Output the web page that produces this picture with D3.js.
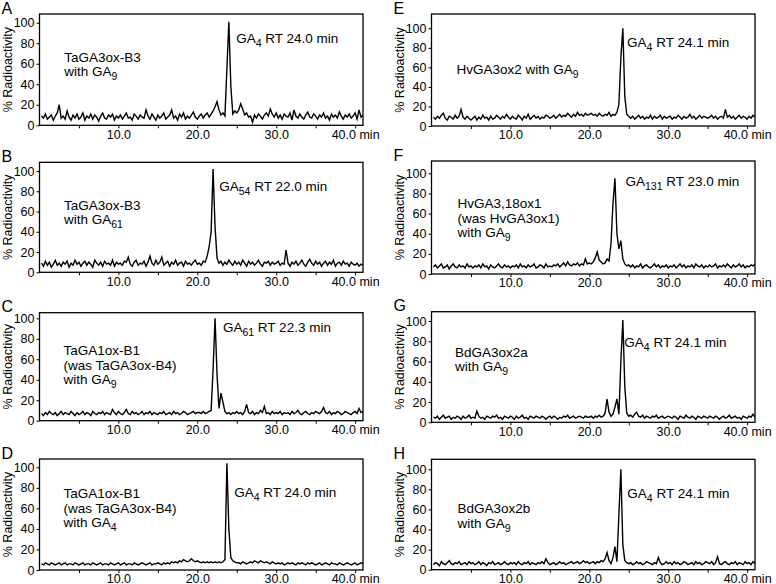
<!DOCTYPE html>
<meta charset="utf-8">
<body style="margin:0;background:#fff">
<script src="https://cdn.jsdelivr.net/npm/d3@7"></script>
<script>

// radio-HPLC traces, % radioactivity, one reading every 0.25 min from 0.25 min
const sampleStep = 0.25;

const traceA = [
  9,7,11,6,8,10,5,9,12,20,7,9,6,14,8,5,10,7,11,6,
  8,12,5,9,7,11,6,10,8,4,9,12,7,6,10,8,11,5,9,7,
  10,6,9,12,7,8,5,11,9,6,10,8,7,15,9,6,11,8,5,10,
  7,9,12,6,8,10,15,7,9,5,11,8,12,6,9,7,10,13,8,6,
  9,11,7,10,12,8,11,14,18,23,15,10,12,9,55,101,38,11,14,12,
  15,21,16,10,12,8,9,3,10,7,11,9,6,10,12,9,16,11,8,12,
  7,10,6,11,9,8,12,5,15,9,7,11,8,6,10,13,8,7,11,9,
  6,10,8,12,7,9,5,11,8,10,7,13,9,6,10,8,11,7,9,12,
  6,15,8,10
];
const traceB = [
  9,6,11,7,10,5,8,12,7,9,6,10,8,11,5,9,7,12,8,10,
  6,9,11,7,10,8,5,12,9,7,10,6,11,8,9,7,12,6,10,8,
  9,7,11,10,15,8,6,10,12,7,9,8,11,6,10,16,9,7,12,8,
  10,15,7,9,11,6,10,8,12,7,9,10,6,11,8,9,7,10,12,8,
  9,7,11,10,16,25,40,102,45,14,9,11,7,10,8,12,9,7,11,8,
  10,7,12,9,6,11,8,10,7,9,12,8,6,10,9,11,7,10,8,9,
  11,7,9,8,22,9,6,10,8,11,7,9,12,8,6,10,13,9,7,11,
  8,10,6,9,11,7,10,8,12,6,9,10,7,11,8,9,6,10,8,7,
  9,6,8,7
];
const traceC = [
  7,5,8,6,9,7,6,8,5,7,9,6,8,7,6,9,7,5,8,6,
  7,9,6,8,7,5,9,7,6,8,7,9,6,8,7,6,11,8,6,9,
  7,6,8,11,7,6,9,7,8,6,7,9,6,8,7,9,6,8,7,6,
  8,7,9,6,7,8,6,9,7,8,6,7,9,8,6,7,8,9,7,8,
  8,7,9,7,8,9,10,50,100,45,12,27,18,9,7,8,6,8,7,9,
  7,8,6,9,16,8,7,9,6,8,7,10,8,14,7,8,6,9,7,8,
  7,9,6,8,7,8,6,9,7,8,10,7,6,8,9,7,6,8,7,9,
  8,7,9,13,8,7,9,6,8,7,9,8,6,7,9,8,7,6,8,9,
  7,12,8,9
];
const traceD = [
  6,5,7,6,5,7,6,5,6,7,5,6,7,5,6,6,5,7,6,5,
  6,7,5,6,6,5,7,6,5,6,7,5,6,6,5,7,6,5,6,7,
  5,6,7,5,6,6,5,7,6,5,6,7,6,5,6,7,5,6,6,7,
  6,5,7,6,7,6,8,7,8,7,9,8,10,9,8,9,11,9,8,9,
  8,7,8,7,8,7,8,7,8,7,8,7,8,10,104,40,12,9,8,7,
  7,6,8,7,6,7,8,7,9,8,7,9,8,7,8,7,6,8,7,6,
  7,6,7,5,6,7,6,7,6,5,7,6,7,6,5,7,6,7,6,5,
  6,7,5,6,7,6,5,7,6,6,5,7,6,5,6,7,6,5,6,7,
  5,6,7,6
];
const traceE = [
  9,7,10,8,11,13,8,6,10,9,7,11,8,10,17,9,7,10,8,6,
  8,10,6,9,7,11,8,9,6,10,7,8,11,9,7,10,8,12,9,7,
  10,8,7,11,9,6,10,8,12,7,9,11,8,10,7,9,8,11,10,8,
  9,11,8,10,12,9,11,10,13,11,9,12,10,14,11,12,10,13,11,12,
  13,11,12,10,13,11,10,12,11,14,10,12,11,14,22,70,100,30,12,10,
  8,10,7,9,11,8,10,7,9,8,11,7,10,8,9,11,7,10,8,9,
  10,7,9,8,11,9,7,10,8,9,12,8,10,7,9,11,8,10,9,8,
  9,11,8,10,7,9,10,8,17,9,11,8,10,7,9,11,8,10,9,7,
  10,8,11,9
];
const traceF = [
  7,9,6,8,10,6,7,9,5,8,10,7,6,9,7,8,6,10,7,8,
  6,8,7,9,6,10,7,8,5,9,7,6,8,10,7,6,9,7,8,6,
  8,7,9,6,10,7,8,6,9,7,8,10,6,7,9,8,6,10,7,8,
  7,9,8,10,7,9,11,8,12,9,8,10,9,11,8,10,9,15,10,11,
  10,12,16,22,14,12,10,11,15,13,30,70,95,40,25,33,15,10,8,9,
  7,9,6,8,7,10,6,8,9,7,6,8,10,7,9,6,8,7,9,6,
  8,7,9,6,8,10,7,9,6,8,7,9,6,10,8,7,9,6,8,7,
  9,7,8,10,6,8,7,9,7,10,8,6,9,7,8,10,7,9,6,8,
  7,9,8,10
];
const traceG = [
  5,4,6,3,5,7,4,5,6,3,5,4,6,5,3,6,4,5,7,4,
  5,4,11,6,4,5,3,6,5,4,6,5,7,4,5,3,6,5,4,6,
  5,3,6,4,5,7,4,5,3,6,5,4,6,5,4,6,5,3,5,6,
  4,6,5,3,5,4,6,5,7,4,5,6,4,5,6,5,4,6,5,5,
  6,4,6,5,7,5,6,9,23,10,6,8,15,23,8,60,101,35,9,6,
  7,5,8,10,6,5,7,4,6,5,4,6,5,7,4,5,6,4,5,6,
  5,4,6,5,3,6,5,4,7,5,4,6,5,3,6,5,4,6,5,4,
  6,5,4,6,5,3,5,6,4,5,7,4,5,6,4,5,3,6,5,4,
  6,5,8,5
];
const traceH = [
  5,7,6,4,8,6,5,7,9,6,5,7,6,8,5,6,7,5,8,6,
  7,5,6,8,5,7,6,4,7,6,8,5,6,7,5,6,8,6,5,7,
  6,7,5,8,6,5,7,6,8,5,7,6,5,7,6,8,6,11,7,5,
  6,7,5,6,8,6,7,5,6,7,8,6,7,8,6,7,9,7,8,6,
  7,8,6,8,7,9,8,11,17,9,6,12,23,8,55,100,25,9,7,6,
  7,5,6,8,6,7,5,6,8,7,6,5,7,6,12,7,5,6,8,6,
  7,5,8,6,7,5,6,8,7,5,6,7,5,8,6,7,5,6,8,7,
  6,8,5,7,13,6,5,7,8,6,5,7,6,8,5,7,6,5,8,6,
  7,5,8,6
];

const traces = [traceA, traceB, traceC, traceD, traceE, traceF, traceG, traceH];
const letters = ["A", "B", "C", "D", "E", "F", "G", "H"];

// text segments: odd entries are subscripts
const enzymeLines = [
  [["TaGA3ox-B3"], ["with GA", "9"]],
  [["TaGA3ox-B3"], ["with GA", "61"]],
  [["TaGA1ox-B1"], ["(was TaGA3ox-B4)"], ["with GA", "9"]],
  [["TaGA1ox-B1"], ["(was TaGA3ox-B4)"], ["with GA", "4"]],
  [["HvGA3ox2 with GA", "9"]],
  [["HvGA3,18ox1"], ["(was HvGA3ox1)"], ["with GA", "9"]],
  [["BdGA3ox2a"], ["with GA", "9"]],
  [["BdGA3ox2b"], ["with GA", "9"]]
];
const peakLabels = [
  ["GA", "4", " RT 24.0 min"],
  ["GA", "54", " RT 22.0 min"],
  ["GA", "61", " RT 22.3 min"],
  ["GA", "4", " RT 24.0 min"],
  ["GA", "4", " RT 24.1 min"],
  ["GA", "131", " RT 23.0 min"],
  ["GA", "4", " RT 24.1 min"],
  ["GA", "4", " RT 24.1 min"]
];

const yTicks = [0, 20, 40, 60, 80, 100];
const xTicks = [5, 10, 15, 20, 25, 30, 35, 40];
const xLabelled = [10, 20, 30, 40];
const xMax = 41;

const colLeft = [39.5, 431.5], colRight = [363, 755];
const panelLayout = [
  {col: 0, top: 14,    y0: 125.3, y100: 22.7,  name: [24.7, 48],   peak: [196.7, 29]},
  {col: 0, top: 162.3, y0: 272.3, y100: 171,   name: [24.5, 47.7], peak: [179.7, 28.4]},
  {col: 0, top: 312.7, y0: 420.7, y100: 318.3, name: [24, 42.6],   peak: [183.4, 19]},
  {col: 0, top: 459,   y0: 570,   y100: 467.3, name: [24, 39.3],   peak: [194.7, 37.7]},
  {col: 1, top: 14,    y0: 126,   y100: 28.3,  name: [25, 60],     peak: [195.5, 32.7]},
  {col: 1, top: 161,   y0: 274,   y100: 173.3, name: [26, 47.3],   peak: [194, 25]},
  {col: 1, top: 311.7, y0: 422.3, y100: 321,   name: [23.5, 45],   peak: [192.8, 35]},
  {col: 1, top: 459.3, y0: 569.7, y100: 469.3, name: [26, 54],     peak: [195.8, 39]}
];
const lineGap = 14.4;
const font = "'Liberation Sans', Arial, sans-serif";

const svg = d3.select("body").append("svg")
    .attr("width", 776)
    .attr("height", 584)
    .style("font-family", font);

function addSegments(sel, segs, size) {
  segs.forEach((s, i) => {
    const sub = i % 2 == 1;
    const t = sel.append("tspan").text(s);
    if (sub) t.attr("font-size", size * 0.78).attr("dy", 4);
    else if (i > 0) t.attr("dy", -4);
  });
}

panelLayout.forEach((p, k) => {
  const left = colLeft[p.col], right = colRight[p.col];

  const x = d3.scaleLinear().domain([0, xMax]).range([left, right]);
  const y = d3.scaleLinear().domain([0, 100]).range([p.y0, p.y100]);

  const g = svg.append("g");

  g.append("clipPath").attr("id", "clip" + k)
    .append("rect")
      .attr("x", left).attr("y", p.top)
      .attr("width", right - left).attr("height", p.y0 - p.top);

  // trace
  const line = d3.line()
      .x((d, i) => x((i + 1) * sampleStep))
      .y(d => y(d));

  g.append("path")
      .datum(traces[k])
      .attr("clip-path", `url(#clip${k})`)
      .attr("d", line)
      .attr("fill", "none")
      .attr("stroke", "#000")
      .attr("stroke-width", 1.4)
      .attr("stroke-linejoin", "miter");

  // axes
  const yAxis = g.append("g")
      .attr("transform", `translate(${left},0)`)
      .call(d3.axisLeft(y).tickValues(yTicks).tickSize(3).tickPadding(2).tickFormat(d3.format("d")));

  const xAxis = g.append("g")
      .attr("transform", `translate(0,${p.y0})`)
      .call(d3.axisBottom(x).tickValues(xTicks).tickSize(3).tickPadding(1.5)
        .tickFormat(d => xLabelled.includes(d) ? d.toFixed(1) + (d == 40 ? " min" : "") : ""));

  [xAxis, yAxis].forEach(a => {
    a.select(".domain").remove();
    a.selectAll("line").attr("stroke", "#000").attr("stroke-width", 1);
    a.selectAll("text").attr("fill", "#000").style("font-family", font).style("font-size", "12.5px");
  });

  // frame
  g.append("rect")
      .attr("x", left).attr("y", p.top)
      .attr("width", right - left).attr("height", p.y0 - p.top)
      .attr("fill", "none")
      .attr("stroke", "#000")
      .attr("stroke-width", 1.3);

  // y title
  g.append("text")
      .attr("transform", `translate(${left - 28},${(p.top + p.y0) / 2}) rotate(-90)`)
      .attr("text-anchor", "middle")
      .style("font-size", "12.5px")
      .text("% Radioactivity");

  // panel letter
  g.append("text")
      .attr("x", left - 38)
      .attr("y", p.top - 0.5)
      .style("font-size", "16px")
      .text(letters[k]);

  // enzyme / substrate
  enzymeLines[k].forEach((segs, j) => {
    const t = g.append("text")
        .attr("x", left + p.name[0])
        .attr("y", p.top + p.name[1] + j * lineGap)
        .style("font-size", "13.5px");
    addSegments(t, segs, 13.5);
  });

  // product label
  const pk = g.append("text")
      .attr("x", left + p.peak[0])
      .attr("y", p.top + p.peak[1])
      .style("font-size", "13.5px");
  addSegments(pk, peakLabels[k], 13.5);
});

</script>
